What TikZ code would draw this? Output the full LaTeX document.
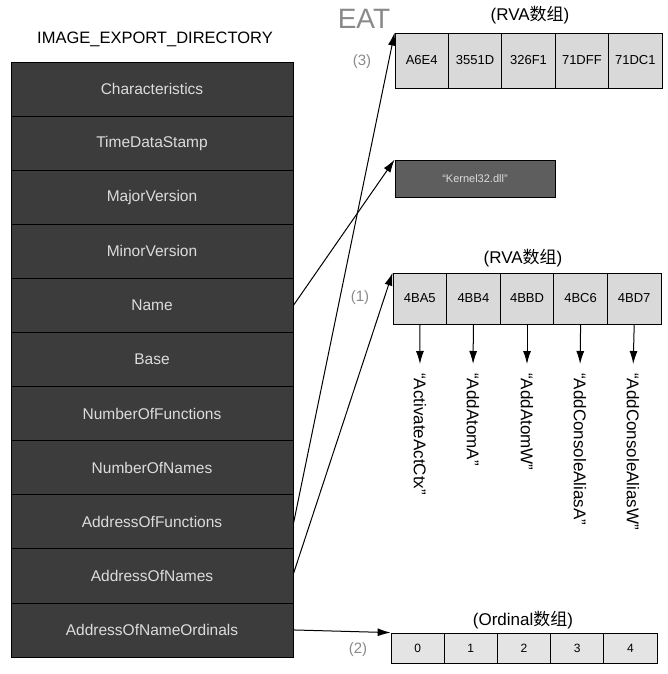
\documentclass[tikz,border=0pt]{standalone}
\usepackage{fontspec}
\setmainfont{Liberation Sans}
\newfontfamily\cjk{Noto Sans CJK SC}
\usetikzlibrary{arrows.meta}
\definecolor{tabfill}{HTML}{3C3C3C}
\definecolor{tabtext}{HTML}{DCDCDC}
\definecolor{cellfill}{HTML}{D9D9D9}
\definecolor{kfill}{HTML}{5E5E5E}
\definecolor{lblgray}{HTML}{8A8A8A}
\begin{document}
\begin{tikzpicture}[x=1pt,y=-1pt,
  rowbox/.style={draw=black, line width=0.8pt, fill=tabfill, text=tabtext,
    minimum width=282pt, minimum height=54.09pt, inner sep=0pt,
    font=\fontsize{15.5}{17}\selectfont},
  topcell/.style={draw=black, line width=0.8pt, fill=cellfill, minimum width=53.4pt,
    minimum height=55pt, inner sep=0pt, font=\fontsize{13}{15}\selectfont},
  midcell/.style={draw=black, line width=0.8pt, fill=cellfill, minimum width=53.6pt,
    minimum height=51pt, inner sep=0pt, font=\fontsize{13}{15}\selectfont},
  ordcell/.style={draw=black, line width=0.8pt, fill=cellfill!70!white, minimum width=53.2pt,
    minimum height=30pt, inner sep=0pt, font=\fontsize{12}{14}\selectfont},
  numlbl/.style={text=lblgray, font=\fontsize{15}{17}\selectfont},
  arrlbl/.style={font=\fontsize{17}{19}\selectfont},
  vtext/.style={rotate=-90, anchor=west, inner sep=0pt, font=\fontsize{17}{19}\selectfont},
  link/.style={line width=1pt, -{Latex[length=13pt,width=8pt]}},
  downarrow/.style={line width=1pt, -{Latex[length=13pt,width=8pt]}, shorten >=9pt}
]
\useasboundingbox (0,0) rectangle (668,674);

% title
\node[font=\fontsize{16.5}{18}\selectfont] (title) at (155,39) {IMAGE\_EXPORT\_DIRECTORY};

% table rows
\foreach \i/\t in {1/Characteristics,2/TimeDataStamp,3/MajorVersion,4/MinorVersion,5/Name,6/Base,7/NumberOfFunctions,8/NumberOfNames,9/AddressOfFunctions,10/AddressOfNames,11/AddressOfNameOrdinals}{
  \node[rowbox] (r\i) at (152,{62+54.09*(\i-0.5)}) {\t};
}

% EAT label
\node[text=lblgray, font=\fontsize{28}{30}\selectfont] (eat) at (364,19) {EAT};

% top array
\node[arrlbl] (rva1) at (530,15) {(RVA{\cjk 数组})};
\foreach \i/\t in {1/A6E4,2/3551D,3/326F1,4/71DFF,5/71DC1}{
  \node[topcell] (a\i) at ({395+53.4*(\i-0.5)},60.5) {\t};
}
\node[numlbl] (n3) at (362,62) {(3)};

% Kernel32 box
\node[draw=black, line width=0.8pt, fill=kfill, text=tabtext, minimum width=160pt,
  minimum height=37pt, inner sep=0pt, font=\fontsize{11}{13}\selectfont] (k) at (475,178.5) {“Kernel32.dll”};

% middle array
\node[arrlbl] (rva2) at (523,258) {(RVA{\cjk 数组})};
\foreach \i/\t in {1/4BA5,2/4BB4,3/4BBD,4/4BC6,5/4BD7}{
  \node[midcell] (b\i) at ({393+53.6*(\i-0.5)},298.5) {\t};
}
\node[numlbl] (n1) at (360,298) {(1)};

% rotated names
\foreach \i/\x/\t in {1/420/ActivateActCtx,2/473/AddAtomA,3/527/AddAtomW,4/580/AddConsoleAliasA,5/633/AddConsoleAliasW}{
  \node[vtext] (t\i) at (\x,373) {“\t”};
  \draw[downarrow] (b\i.south) -- (t\i.west);
}

% ordinal array
\node[arrlbl] (ordl) at (523,620) {(Ordinal{\cjk 数组})};
\foreach \i in {0,...,4}{
  \node[ordcell] (o\i) at ({391+53.2*(\i+0.5)},648) {\i};
}
\node[numlbl] (n2) at (358,650) {(2)};

% links
\draw[link] (r5.east) -- (k.north west);
\draw[link] ([yshift=-2pt]r9.east) -- (a1.north west);
\draw[link] ([yshift=2pt]r10.east) -- (b1.north west);
\draw[link] (r11.east) -- (o0.north west);
\end{tikzpicture}
\end{document}
